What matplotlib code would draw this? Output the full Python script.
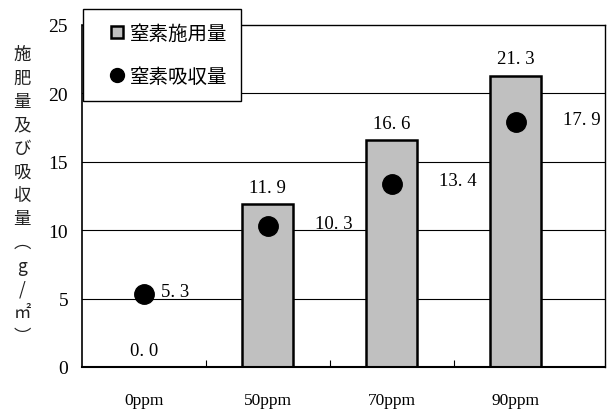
import matplotlib
matplotlib.use("Agg")
import matplotlib.pyplot as plt
import numpy as np
from matplotlib.lines import Line2D

# nitrogen applied (bars) and nitrogen uptake (dots), g/m2
categories = ["0ppm", "50ppm", "70ppm", "90ppm"]
applied = [0.0, 11.9, 16.6, 21.3]
uptake = [5.3, 10.3, 13.4, 17.9]
yticks = [0, 5, 10, 15, 20, 25]
ylabel_chars = ["施", "肥", "量", "及", "び", "吸", "収", "量", "︵", "g", "/", "㎡", "︶"]

SERIF = ["Liberation Serif", "DejaVu Serif"]
CJK = ["Noto Sans CJK JP", "DejaVu Sans"]


def fmt(v):
    return f"{v:.1f}".replace(".", ". ")


fig = plt.figure(figsize=(6.11, 4.10), dpi=100)
ax = fig.add_axes([82 / 611, 1 - 368 / 410, (605 - 82) / 611, (368 - 26) / 410])

x = np.arange(len(categories))
width = 0.41

ax.set_xlim(-0.5, 3.72)
ax.set_ylim(0, 25)

for y in yticks[1:-1]:
    ax.axhline(y, color="black", lw=0.8, zorder=0)

ax.bar(x, applied, width=width, color="#c0c0c0", edgecolor="black",
       linewidth=1.8, zorder=2)
ax.plot(x, uptake, "o", color="black", markersize=14, zorder=3)

for i, (a, u) in enumerate(zip(applied, uptake)):
    ax.annotate(fmt(a), (i, a), xytext=(0, 6), textcoords="offset points",
                ha="center", va="bottom", fontsize=13.5, family=SERIF)
    lx = i + 0.38 if a > u else i + 0.14
    ax.annotate(fmt(u), (lx, u), xytext=(0, 2), textcoords="offset points",
                ha="left", va="center", fontsize=13.5, family=SERIF)

# boundary ticks between groups, labels at group centres
ax.set_xticks([0.5, 1.5, 2.5])
ax.set_xticklabels([])
ax.tick_params(axis="x", which="major", direction="in", length=5, width=0.8)
ax.set_xticks(x, minor=True)
ax.set_xticklabels(categories, minor=True, family=SERIF, fontsize=12.5)
ax.tick_params(axis="x", which="minor", length=0, pad=18)

ax.set_yticks(yticks)
ax.set_yticklabels([str(t) for t in yticks], family=SERIF, fontsize=14)
ax.tick_params(axis="y", length=0, pad=10)

for s in ax.spines.values():
    s.set_linewidth(1.0)
ax.spines["left"].set_linewidth(1.2)
ax.spines["bottom"].set_linewidth(1.5)

# vertical y-axis label, one character per row
y0, step = 1 - 55 / 410, 23.5 / 410
for k, ch in enumerate(ylabel_chars):
    fig.text(22 / 611, y0 - k * step, ch, ha="center", va="center",
             fontsize=12.5, family=CJK, color="#222222")

handles = [
    Line2D([], [], marker="s", linestyle="none", markersize=9,
           markerfacecolor="#c0c0c0", markeredgecolor="black", markeredgewidth=1.8),
    Line2D([], [], marker="o", linestyle="none", markersize=10,
           markerfacecolor="black", markeredgecolor="black"),
]
leg = fig.legend(handles, ["窒素施用量", "窒素吸収量"], loc="upper left",
                 bbox_to_anchor=(83 / 611, 1 - 10 / 410), prop={"family": CJK, "size": 14},
                 frameon=True, fancybox=False, edgecolor="black", framealpha=1,
                 handlelength=2.1, handletextpad=-0.4, labelspacing=1.15,
                 borderpad=0.7, borderaxespad=0)
leg.get_frame().set_linewidth(1.0)

fig.savefig("out.png", dpi=100)
